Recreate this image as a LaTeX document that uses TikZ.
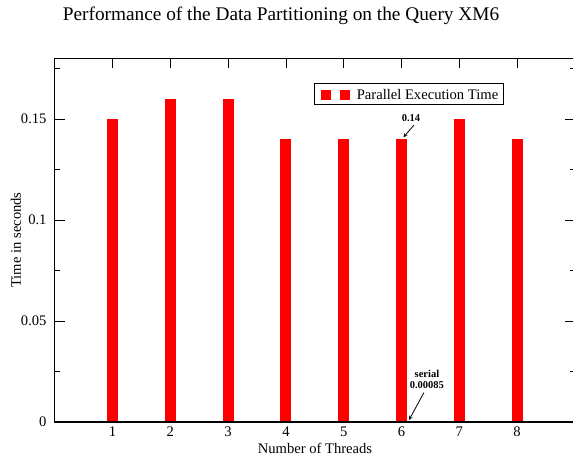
\documentclass[tikz,border=0pt]{standalone}
\usepackage{fontspec}
\setmainfont{Liberation Serif}
\usepackage{tikz}
\usetikzlibrary{arrows,positioning}
\definecolor{barred}{RGB}{255,0,0}
\newcommand{\txtfont}{\fontsize{14.6}{17}\selectfont}
\newcommand{\notefont}{\bfseries\fontsize{10.5}{11.5}\selectfont}

\begin{document}
\begin{tikzpicture}
  \useasboundingbox (0,0) rectangle (573pt,459pt);
  \node (title) at (281pt,443pt) {\fontsize{19.3}{22}\selectfont Performance of the Data Partitioning on the Query XM6};
  \node (xlab) at (315pt,11pt) {\txtfont Number of Threads};
  \node[rotate=90] (ylab) at (16pt,219pt) {\txtfont Time in seconds};
  \begin{scope}[shift={(54.7pt,37pt)},x=57.8pt,y=2020pt]
    % ticks and tick labels
    \foreach \y [count=\i] in {0,0.05,0.1,0.15}{
      \draw[line width=0.6pt] (0,\y) -- ++(10pt,0);
      \draw[line width=0.6pt] (9,\y) -- ++(-10pt,0);
      \node[anchor=east,inner sep=0pt] (yt\i) at ([xshift=-8pt]0,\y) {\txtfont \y};
    }
    \foreach \y in {0.025,0.075,0.125,0.175}{
      \draw[line width=0.6pt] (0,\y) -- ++(5pt,0);
      \draw[line width=0.6pt] (9,\y) -- ++(-5pt,0);
    }
    \foreach \x in {1,...,8}{
      \draw[line width=0.6pt] (\x,0.18) -- ++(0,-10pt);
      \node[anchor=north,inner sep=0pt] (xt\x) at ([yshift=-5pt]\x,0) {\txtfont \x};
    }
    % bars
    \foreach \t/\v in {1/0.15,2/0.16,3/0.16,4/0.14,5/0.14,6/0.14,7/0.15,8/0.14}{
      \fill[barred] (\t-0.095,0) rectangle (\t+0.095,\v);
      \coordinate (top\t) at (\t,\v);
    }
    \draw[line width=1.2pt] (0,0) rectangle (9,0.18);
    % legend
    \draw[line width=0.8pt] (4.489,0.1574) rectangle (7.756,0.1678);
    \node[fill=barred,minimum size=10pt,inner sep=0pt] (sq1) at (4.694,0.1619) {};
    \node[fill=barred,minimum size=10pt,inner sep=0pt,right=9pt of sq1] (sq2) {};
    \node[inner sep=0pt,right=6pt of sq2] (legtxt) {\txtfont Parallel Execution Time};
    % notes
    \node[font=\notefont] (lbl14) at (6.164,0.1505) {0.14};
    \coordinate (tip14) at ([shift={(2pt,2pt)}]top6);
    \draw[line width=0.8pt,-stealth] ([xshift=3pt]lbl14.south) -- (tip14);
    \node[align=center,font=\notefont] (serial) at (6.44,0.0210) {serial\\0.00085};
    \coordinate (serialpt) at (6.13,0.001);
    \draw[line width=0.8pt,-stealth] ([xshift=-3pt]serial.south) -- (serialpt);
  \end{scope}
\end{tikzpicture}
\end{document}
